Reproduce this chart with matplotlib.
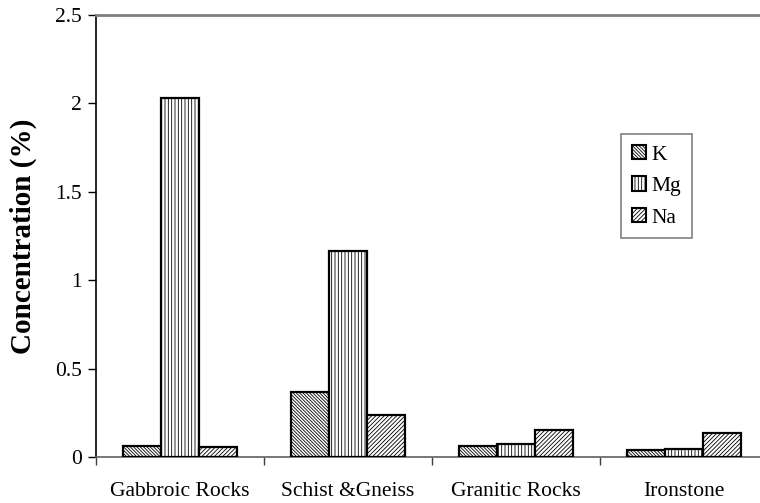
import matplotlib
matplotlib.use("Agg")
import matplotlib.pyplot as plt
import numpy as np

categories = ["Gabbroic Rocks", "Schist &Gneiss", "Granitic Rocks", "Ironstone"]
series_names = ["K", "Mg", "Na"]
k_values = [0.065, 0.37, 0.065, 0.037]
mg_values = [2.03, 1.165, 0.074, 0.047]
na_values = [0.058, 0.237, 0.151, 0.137]
y_ticks = [0, 0.5, 1, 1.5, 2, 2.5]
y_tick_labels = ["0", "0.5", "1", "1.5", "2", "2.5"]

plt.rcParams["font.family"] = ["Liberation Serif", "DejaVu Serif"]
plt.rcParams["hatch.linewidth"] = 0.6
plt.rcParams["hatch.color"] = "#333333"

fig = plt.figure(figsize=(7.6, 5.03), dpi=100)
ax = fig.add_axes([96 / 760, 46 / 503, 672 / 760, 442 / 503])

x = np.arange(len(categories))
width = 0.226
hatches = ["\\" * 10, "|||||", "/" * 8]
for i, (name, vals) in enumerate(zip(series_names, [k_values, mg_values, na_values])):
    ax.bar(x + (i - 1) * width, vals, width, label=name, facecolor="white",
           edgecolor="black", linewidth=1.6, hatch=hatches[i], zorder=3)

ax.set_xlim(-0.5, len(categories) - 0.5)
ax.set_ylim(0, 2.5)
ax.set_yticks(y_ticks)
ax.set_yticklabels(y_tick_labels, fontsize=15.5)

# boundaries between groups carry the tick marks, group centres carry labels
ax.set_xticks(np.arange(len(categories) + 1) - 0.5)
ax.set_xticklabels([])
ax.set_xticks(x, minor=True)
ax.set_xticklabels(categories, minor=True, fontsize=15.5)
ax.tick_params(axis="x", which="major", direction="out", length=6, width=1, color="#404040")
ax.tick_params(axis="x", which="minor", length=0, pad=18)
ax.tick_params(axis="y", direction="out", length=6, width=1, pad=4)

ax.spines["right"].set_visible(False)
ax.spines["top"].set_color("#808080")
ax.spines["top"].set_linewidth(2)
ax.spines["bottom"].set_color("#606060")
ax.spines["bottom"].set_linewidth(1.2)
ax.spines["left"].set_color("black")
ax.spines["left"].set_linewidth(1.2)

ax.set_ylabel("Concentration (%)", fontsize=21, fontweight="bold", labelpad=13)

leg = ax.legend(loc="upper left", bbox_to_anchor=((621 - 96) / 672, 1 - (134 - 15) / 442),
                frameon=True, fancybox=False, fontsize=15.5, handlelength=0.65,
                handleheight=0.65, handletextpad=0.25, labelspacing=0.55,
                borderpad=0.5, borderaxespad=0)
leg.get_frame().set_edgecolor("#606060")
leg.get_frame().set_linewidth(1.2)
for h in leg.legend_handles:
    h.set_linewidth(1.5)

fig.savefig("out.png", dpi=100)
